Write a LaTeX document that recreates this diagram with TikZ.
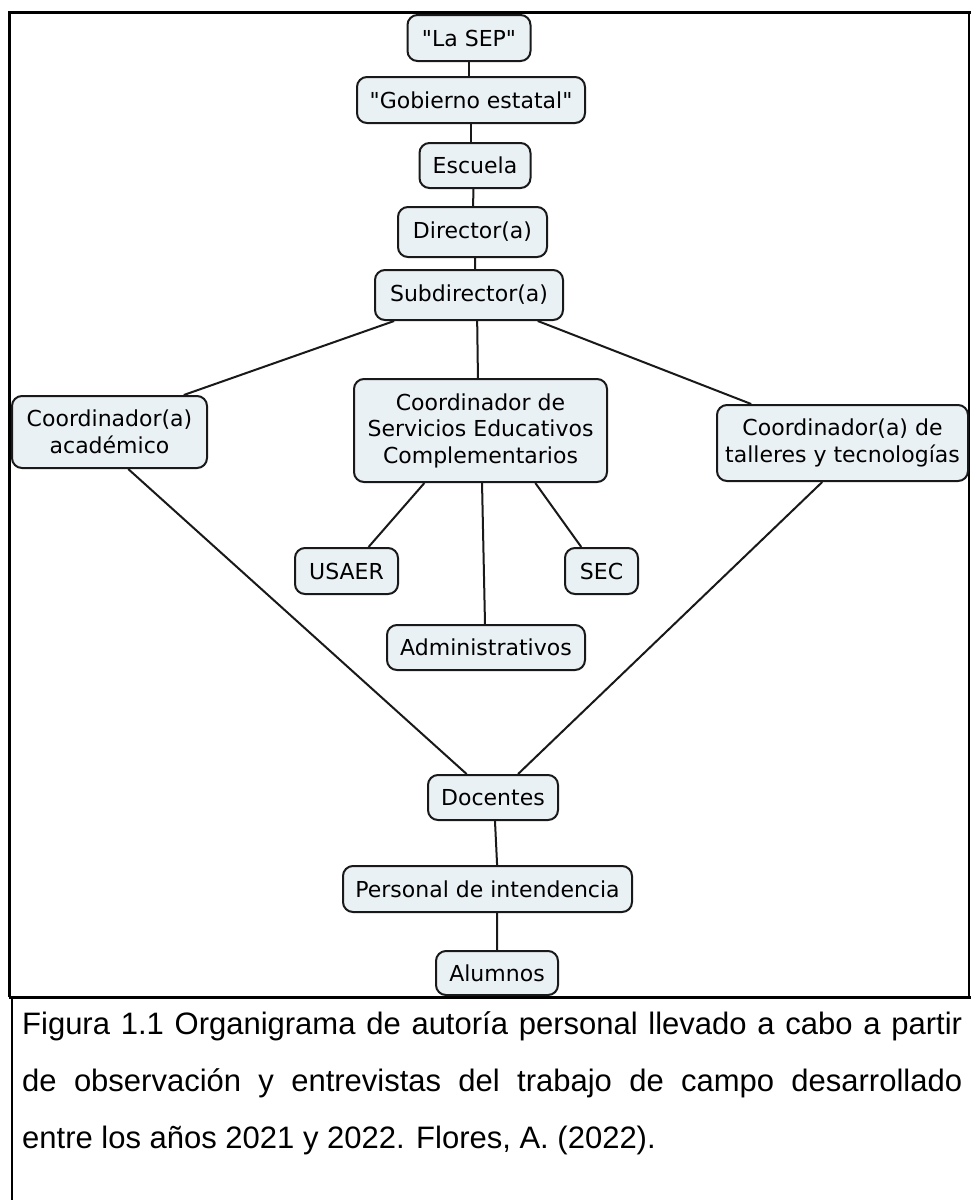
\documentclass[tikz,border=0pt]{standalone}
\usepackage{fontspec}
\setmainfont{DejaVu Sans}
\newfontfamily\capfont{Liberation Sans}
\usetikzlibrary{calc}
\definecolor{boxfill}{RGB}{234,241,245}
\begin{document}
\begin{tikzpicture}[x=1pt,y=-1pt,
  box/.style={draw=black!90, line width=2pt, fill=boxfill, rounded corners=10pt,
    inner sep=0pt, align=center, font=\fontsize{22}{26.5}\selectfont},
  conn/.style={line width=2pt, draw=black!90},
  frame/.style={line width=3pt},
  captxt/.style={anchor=base west, inner sep=0pt, font=\capfont\fontsize{31}{31}\selectfont}]
\useasboundingbox (0,0) rectangle (971,1200);
\fill[white] (0,0) rectangle (971,1200);

% frame
\draw[frame] (9,997) -- (9,12) -- (971,12);
\draw[line width=1.5pt] (969,12) -- (969,997);
\draw[frame] (9,997) -- (971,997);
\draw[line width=2pt] (12,997) -- (12,1200);

% nodes
\node[box, minimum width=123pt, minimum height=46pt] (sep) at (469,38) {\textquotedbl La SEP\textquotedbl};
\node[box, minimum width=228pt, minimum height=46pt] (gob) at (471,100) {\textquotedbl Gobierno estatal\textquotedbl};
\node[box, minimum width=111pt, minimum height=45pt] (esc) at (475,165.5) {Escuela};
\node[box, minimum width=149pt, minimum height=50pt] (dir) at (472.5,232) {Director(a)};
\node[box, minimum width=188pt, minimum height=50pt] (sub) at (469,295) {Subdirector(a)};
\node[box, minimum width=195pt, minimum height=72pt] (acad) at (109.5,432) {Coordinador(a)\\académico};
\node[box, minimum width=253pt, minimum height=103pt] (csec) at (480.5,430.5) {Coordinador de\\Servicios Educativos\\Complementarios};
\node[box, minimum width=251pt, minimum height=76pt] (tall) at (842.5,443) {Coordinador(a) de\\talleres y tecnologías};
\node[box, minimum width=103pt, minimum height=46pt] (usaer) at (346.5,571) {USAER};
\node[box, minimum width=73pt, minimum height=46pt] (secn) at (601.5,571) {SEC};
\node[box, minimum width=198pt, minimum height=45pt] (adm) at (486,647.5) {Administrativos};
\node[box, minimum width=130pt, minimum height=45pt] (doc) at (493,797.5) {Docentes};
\node[box, minimum width=289pt, minimum height=46pt] (per) at (487.5,889) {Personal de intendencia};
\node[box, minimum width=122pt, minimum height=44pt] (alu) at (497,973) {Alumnos};

% connectors
\draw[conn] (sep.south) -- (sep.south |- gob.north);
\draw[conn] (gob.south) -- (gob.south |- esc.north);
\draw[conn] ($(esc.south west)!0.486!(esc.south east)$) -- ($(dir.north west)!0.504!(dir.north east)$);
\draw[conn] ($(dir.south west)!0.517!(dir.south east)$) -- ($(sub.north west)!0.532!(sub.north east)$);
\draw[conn] ($(sub.south west)!0.106!(sub.south east)$) -- ($(acad.north west)!0.877!(acad.north east)$);
\draw[conn] ($(sub.south west)!0.543!(sub.south east)$) -- ($(csec.north west)!0.49!(csec.north east)$);
\draw[conn] ($(sub.south west)!0.862!(sub.south east)$) -- ($(tall.north west)!0.139!(tall.north east)$);
\draw[conn] ($(acad.south west)!0.595!(acad.south east)$) -- ($(doc.north west)!0.3!(doc.north east)$);
\draw[conn] ($(tall.south west)!0.42!(tall.south east)$) -- ($(doc.north west)!0.69!(doc.north east)$);
\draw[conn] ($(csec.south west)!0.28!(csec.south east)$) -- ($(usaer.north west)!0.71!(usaer.north east)$);
\draw[conn] ($(csec.south west)!0.506!(csec.south east)$) -- ($(adm.north west)!0.495!(adm.north east)$);
\draw[conn] ($(csec.south west)!0.715!(csec.south east)$) -- ($(secn.north west)!0.23!(secn.north east)$);
\draw[conn] ($(doc.south west)!0.515!(doc.south east)$) -- ($(per.north west)!0.533!(per.north east)$);
\draw[conn] ($(per.south west)!0.533!(per.south east)$) -- ($(alu.north west)!0.5!(alu.north east)$);

% caption
\node[captxt] (cap1) at (22,1034) {\makebox[940pt][s]{Figura 1.1 Organigrama de autoría personal llevado a cabo a partir}};
\node[captxt] (cap2) at (22,1091) {\makebox[940pt][s]{de observación y entrevistas del trabajo de campo desarrollado}};
\node[captxt] (cap3) at (22,1148) {entre los años 2021 y 2022. Flores, A. (2022).};
\end{tikzpicture}
\end{document}
